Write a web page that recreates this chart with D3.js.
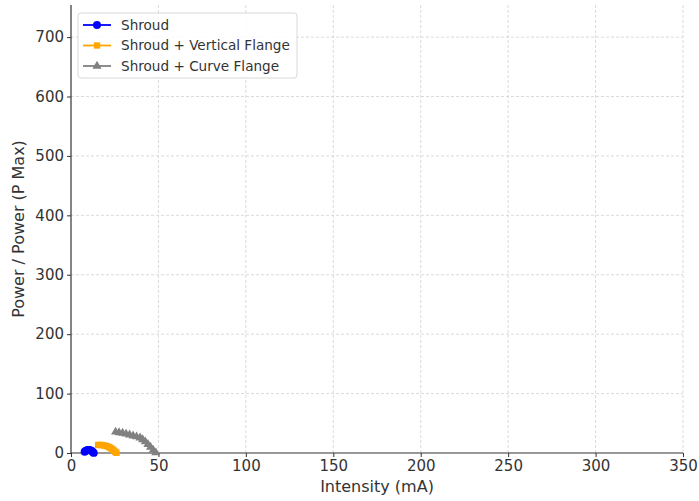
<!DOCTYPE html>
<html><head><meta charset="utf-8">
<script src="https://cdn.jsdelivr.net/npm/d3@7"></script>
<style>body{margin:0;background:#fff;}text{font-family:"DejaVu Sans",sans-serif;fill:#333;}</style>
</head><body><svg id="c" width="699" height="501"></svg>
<script>
const shroudX = [7.8, 8.5, 9.2, 9.9, 10.6, 11.3, 11.9, 12.5, 13.0];
const shroudY = [2.0, 3.8, 4.8, 5.2, 5.0, 4.3, 3.2, 1.8, 0.2];
const verticalX = [15.5, 16.5, 17.5, 18.5, 19.5, 20.5, 21.5, 22.3, 23.1, 23.9, 24.6, 25.3, 26.0];
const verticalY = [13.5, 13.6, 13.4, 13.0, 12.4, 11.5, 10.3, 9.0, 7.5, 5.8, 4.0, 2.0, 0.3];
const curveX = [25.5, 27.5, 29.5, 31.5, 33.5, 35.5, 37.5, 39.5, 41.0, 42.5, 44.0, 45.5, 47.0, 48.5];
const curveY = [35.5, 34.5, 33.5, 32.0, 30.5, 29.0, 27.5, 25.5, 22.5, 19.0, 14.5, 10.0, 5.0, 0.5];
const xTicks = [0, 50, 100, 150, 200, 250, 300, 350];
const yTicks = [0, 100, 200, 300, 400, 500, 600, 700];
const seriesNames = ["Shroud", "Shroud + Vertical Flange", "Shroud + Curve Flange"];
const seriesColors = ["#0000ff", "#ffa500", "#808080"];

const svg = d3.select("#c");
const m = {l:71, r:16, t:5, b:48};
const W = 699, H = 501;
const x = d3.scaleLinear().domain([0, 350]).range([m.l, W - m.r]);
const y = d3.scaleLinear().domain([0, 754]).range([H - m.b, m.t]);

// grid
const g = svg.append("g");
xTicks.forEach(t => { if (t > 0) g.append("line").attr("x1", x(t)).attr("x2", x(t)).attr("y1", y(0)).attr("y2", m.t)
  .attr("stroke", "#d0d0d0").attr("stroke-width", 0.8).attr("stroke-dasharray", "3,2"); });
yTicks.forEach(t => { if (t > 0) g.append("line").attr("x1", x(0)).attr("x2", W - m.r).attr("y1", y(t)).attr("y2", y(t))
  .attr("stroke", "#d0d0d0").attr("stroke-width", 0.8).attr("stroke-dasharray", "3,2"); });

// axes
const xAxis = svg.append("g").attr("transform", `translate(0,${y(0)})`)
  .call(d3.axisBottom(x).tickValues(xTicks).tickSize(4).tickPadding(3));
const yAxis = svg.append("g").attr("transform", `translate(${x(0)},0)`)
  .call(d3.axisLeft(y).tickValues(yTicks).tickSize(4).tickPadding(3));
[xAxis, yAxis].forEach(a => {
  a.select(".domain").attr("stroke", "#333").attr("stroke-width", 1.2);
  a.selectAll(".tick line").attr("stroke", "#333");
  a.selectAll(".tick text").attr("font-size", 15).attr("fill", "#333").style("font-family", "DejaVu Sans, sans-serif");
});
xAxis.select(".domain").attr("d", `M${x(0)},0H${W - m.r}`);
yAxis.select(".domain").attr("d", `M0,${y(0)}V${m.t}`);

svg.append("text").attr("x", (m.l + W - m.r) / 2).attr("y", 492).attr("text-anchor", "middle")
  .attr("font-size", 16).text("Intensity (mA)");
svg.append("text").attr("transform", `translate(24,${(m.t + H - m.b) / 2}) rotate(-90)`).attr("text-anchor", "middle")
  .attr("font-size", 16).text("Power / Power (P Max)");

const data = [
  {xs: shroudX, ys: shroudY, shape: d3.symbolCircle, size: 50},
  {xs: verticalX, ys: verticalY, shape: d3.symbolSquare, size: 40},
  {xs: curveX, ys: curveY, shape: d3.symbolTriangle, size: 36}
];
const line = d3.line().x(d => x(d[0])).y(d => y(d[1]));
data.forEach((s, i) => {
  const pts = s.xs.map((v, j) => [v, s.ys[j]]);
  svg.append("path").attr("d", line(pts)).attr("fill", "none").attr("stroke", seriesColors[i]).attr("stroke-width", 1.8);
  svg.selectAll(null).data(pts).enter().append("path")
    .attr("d", d3.symbol().type(s.shape).size(s.size))
    .attr("transform", d => `translate(${x(d[0])},${y(d[1])})`)
    .attr("fill", seriesColors[i]);
});

// legend
const lg = svg.append("g").attr("transform", "translate(78,13)");
lg.append("rect").attr("width", 219).attr("height", 65).attr("rx", 3).attr("fill", "#fff").attr("fill-opacity", 0.85)
  .attr("stroke", "#d8d8d8");
data.forEach((s, i) => {
  const yy = 12 + i * 20.5;
  lg.append("line").attr("x1", 5).attr("x2", 33).attr("y1", yy).attr("y2", yy).attr("stroke", seriesColors[i]).attr("stroke-width", 1.8);
  lg.append("path").attr("d", d3.symbol().type(s.shape).size(s.size)).attr("transform", `translate(19,${yy})`).attr("fill", seriesColors[i]);
  lg.append("text").attr("x", 43).attr("y", yy + 4.5).attr("font-size", 13.6).text(seriesNames[i]);
});
</script></body></html>
